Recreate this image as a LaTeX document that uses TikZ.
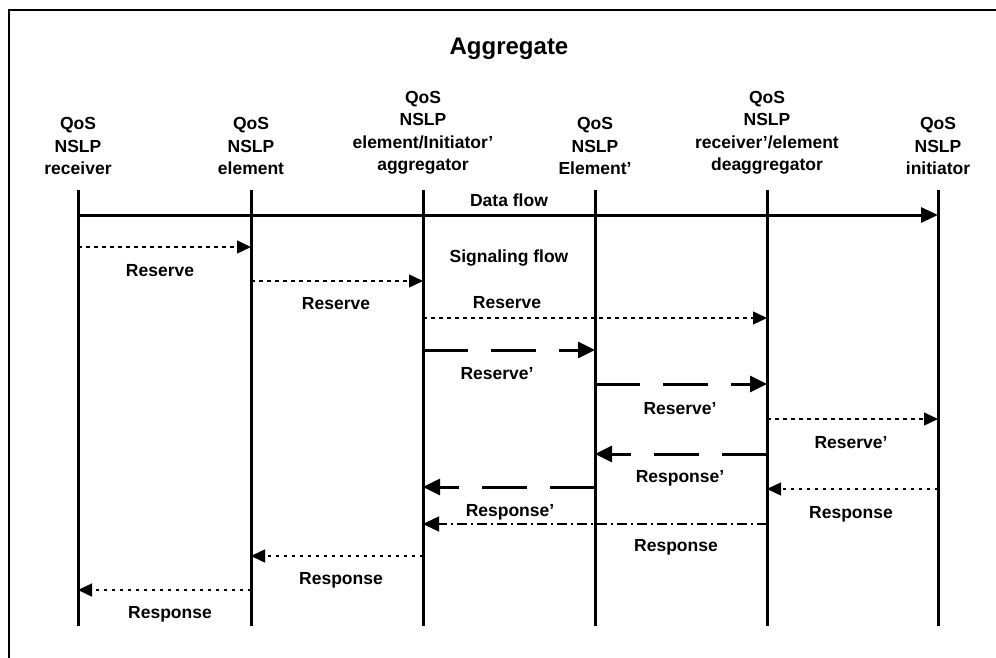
\documentclass[tikz,border=0pt]{standalone}
\usepackage{fontspec}
\setmainfont{Liberation Sans}
\usetikzlibrary{arrows.meta}

\begin{document}
\begin{tikzpicture}[x=1pt,y=-1pt,
  lbl/.style={font=\bfseries\fontsize{17.5}{22.5}\selectfont, inner sep=0pt, anchor=base},
  head/.style={lbl, align=center, anchor=north},
  lifeline/.style={line width=3pt},
  sig/.style={line width=1.4pt, dash pattern=on 3.5pt off 4.5pt, -{Triangle[length=14pt,width=13pt]}},
  agg/.style={line width=3pt, dash pattern=on 45pt off 23pt, -{Triangle[length=17pt,width=16pt]}},
  dashdot/.style={line width=1.5pt, dash pattern=on 10pt off 4pt on 2pt off 4pt, -{Triangle[length=16pt,width=15pt]}},
]
\useasboundingbox (0,0) rectangle (996,658);

% open frame (top and left edges)
\draw[line width=2.2pt] (996,10) -- (9,10) -- (9,658);

% title
\node[lbl, font=\bfseries\fontsize{24}{28}\selectfont] (title) at (509,55) {Aggregate};

% entity headings
\node[head] (hA) at (78,117.5) {QoS\\NSLP\\receiver};
\node[head] (hB) at (251,117.5) {QoS\\NSLP\\element};
\node[head] (hC) at (423,91) {QoS\\NSLP\\element/Initiator'\\aggregator};
\node[head] (hD) at (595,117.5) {QoS\\NSLP\\Element'};
\node[head] (hE) at (767,91) {QoS\\NSLP\\receiver'/element\\deaggregator};
\node[head] (hF) at (938,117.5) {QoS\\NSLP\\initiator};

% lifelines
\foreach \n/\x in {A/78,B/251,C/423,D/595,E/767,F/938} {
  \coordinate (\n) at (\x,190);
  \coordinate (\n end) at (\x,626);
  \draw[lifeline] (\n) -- (\n end);
}

% message levels
\foreach \i/\y in {d/215,1/247,2/281,3/318,4/350,5/384,6/419,7/454,8/487,9/489,10/524,11/556,12/590} {
  \coordinate (y\i) at (0,\y);
}

% data flow
\draw[line width=3pt, -{Triangle[length=17pt,width=15pt]}] (A |- yd) -- (F |- yd);
\node[lbl] (ldata) at (509,206) {Data flow};
\node[lbl] (lsig) at (509,262) {Signaling flow};

% reservation path
\draw[sig] (A |- y1) -- (B |- y1);
\node[lbl] (l1) at (160,276) {Reserve};
\draw[sig] (B |- y2) -- (C |- y2);
\node[lbl] (l2) at (336,309) {Reserve};
\draw[sig] (C |- y3) -- (E |- y3);
\node[lbl] (l3) at (507,308) {Reserve};
\draw[agg] (C |- y4) -- (D |- y4);
\node[lbl] (l4) at (497,379) {Reserve'};
\draw[agg] (D |- y5) -- (E |- y5);
\node[lbl] (l5) at (680,414) {Reserve'};
\draw[sig] (E |- y6) -- (F |- y6);
\node[lbl] (l6) at (851,448) {Reserve'};

% response path
\draw[agg] (E |- y7) -- (D |- y7);
\node[lbl] (l7) at (680,482) {Response'};
\draw[agg] (D |- y8) -- (C |- y8);
\node[lbl] (l8) at (510,516) {Response'};
\draw[sig] (F |- y9) -- (E |- y9);
\node[lbl] (l9) at (851,518) {Response};
\draw[dashdot] (E |- y10) -- (C |- y10);
\node[lbl] (l10) at (676,551) {Response};
\draw[sig] (C |- y11) -- (B |- y11);
\node[lbl] (l11) at (341,584) {Response};
\draw[sig] (B |- y12) -- (A |- y12);
\node[lbl] (l12) at (170,618) {Response};
\end{tikzpicture}
\end{document}
